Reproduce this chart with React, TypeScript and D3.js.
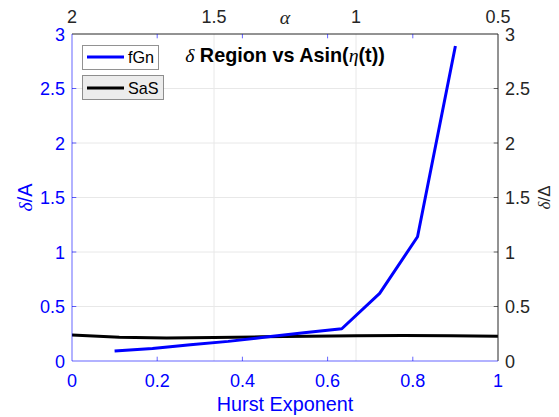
import React from "react";
import * as d3 from "d3";

const hurst = [0.1, 0.1889, 0.2778, 0.3667, 0.4556, 0.5444, 0.6333, 0.7222, 0.8111, 0.9];
const fGn = [0.092, 0.115, 0.15, 0.18, 0.22, 0.26, 0.296, 0.62, 1.14, 2.89];
const alphaVals = [2, 1.8333, 1.6667, 1.5, 1.3333, 1.1667, 1, 0.8333, 0.6667, 0.5];
const sas = [0.238, 0.218, 0.212, 0.215, 0.222, 0.228, 0.232, 0.233, 0.232, 0.228];
const xTicks = [0, 0.2, 0.4, 0.6, 0.8, 1];
const yTicks = [0, 0.5, 1, 1.5, 2, 2.5, 3];
const alphaTicks = [2, 1.5, 1, 0.5];

const W = 559, H = 417;
const L = 72, R = 498, T = 34, B = 361;
const BLUE = "#0000ff";
const GRAY = "#262626";
const FONT = "'Liberation Sans', Arial, Helvetica, sans-serif";

export default function App() {
  const x = d3.scaleLinear().domain([0, 1]).range([L, R]);
  const xa = d3.scaleLinear().domain([2, 0.5]).range([L, R]);
  const y = d3.scaleLinear().domain([0, 3]).range([B, T]);
  const yr = d3.scaleLinear().domain([0, 3]).range([B, T]);
  const lineF = d3.line<number>().x((_, i) => x(hurst[i])).y((d) => y(d));
  const lineS = d3.line<number>().x((_, i) => xa(alphaVals[i])).y((d) => yr(d));
  const fmt = (v: number) => String(v);
  const tl = 4.3;
  return (
    <svg width={W} height={H} style={{ position: "absolute", left: 0, top: 0, background: "#fff" }}>
      <rect x={0} y={0} width={W} height={H} fill="#fff" />
      {/* grid */}
      {yTicks.slice(1, -1).map((t) => (
        <line key={"gy" + t} x1={L} x2={R} y1={y(t)} y2={y(t)} stroke="#e8e8e8" strokeWidth={1} />
      ))}
      {alphaTicks.slice(1, -1).map((t) => (
        <line key={"ga" + t} x1={xa(t)} x2={xa(t)} y1={T} y2={B} stroke="#e8e8e8" strokeWidth={1} />
      ))}
      {/* lines */}
      <path d={lineS(sas) || ""} fill="none" stroke="#000" strokeWidth={3} strokeLinejoin="round" />
      <path d={lineF(fGn) || ""} fill="none" stroke={BLUE} strokeWidth={3} strokeLinejoin="round" />
      {/* axes lines */}
      <line x1={L} x2={R} y1={T} y2={T} stroke={GRAY} strokeWidth={1} />
      <line x1={R} x2={R} y1={T} y2={B} stroke={GRAY} strokeWidth={1} />
      <line x1={L} x2={L} y1={T} y2={B} stroke={BLUE} strokeWidth={1} opacity={0.6} />
      <line x1={L} x2={R} y1={B} y2={B} stroke={BLUE} strokeWidth={1} opacity={0.6} />
      {/* ticks */}
      {xTicks.slice(1, -1).map((t) => (
        <g key={"xt" + t}>
          <line x1={x(t)} x2={x(t)} y1={B} y2={B - tl} stroke={BLUE} opacity={0.6} />
          <line x1={x(t)} x2={x(t)} y1={T} y2={T + tl} stroke={BLUE} opacity={0.6} />
        </g>
      ))}
      {yTicks.slice(1, -1).map((t) => (
        <g key={"yt" + t}>
          <line x1={L} x2={L + tl} y1={y(t)} y2={y(t)} stroke={BLUE} opacity={0.6} />
          <line x1={R} x2={R - tl} y1={yr(t)} y2={yr(t)} stroke={GRAY} opacity={0.7} />
        </g>
      ))}
      {/* tick labels */}
      <g fontFamily={FONT} fontSize={18}>
        {xTicks.map((t) => (
          <text key={"xl" + t} x={x(t)} y={387} textAnchor="middle" fill={BLUE}>{fmt(t)}</text>
        ))}
        {yTicks.map((t) => (
          <text key={"yl" + t} x={65} y={y(t) + 6.5} textAnchor="end" fill={BLUE}>{fmt(t)}</text>
        ))}
        {yTicks.map((t) => (
          <text key={"yr" + t} x={505} y={yr(t) + 6.5} textAnchor="start" fill={GRAY}>{fmt(t)}</text>
        ))}
        {alphaTicks.map((t) => (
          <text key={"al" + t} x={xa(t)} y={23} textAnchor="middle" fill={GRAY}>{fmt(t)}</text>
        ))}
      </g>
      {/* axis labels */}
      <text x={(L + R) / 2} y={411} textAnchor="middle" fontFamily={FONT} fontSize={19.8} fill={BLUE}>Hurst Exponent</text>
      <text transform={`translate(${32},${(T + B) / 2}) rotate(-90)`} textAnchor="middle" fontFamily={FONT} fontSize={19.8} fill={BLUE}>
        <tspan fontFamily="'Liberation Serif', serif" fontStyle="italic">δ</tspan>/A
      </text>
      <text transform={`translate(${550},${(T + B) / 2}) rotate(-90)`} textAnchor="middle" fontFamily={FONT} fontSize={17} fill={GRAY}>
        <tspan fontFamily="'Liberation Serif', serif" fontStyle="italic">δ</tspan>/Δ
      </text>
      <text x={(L + R) / 2} y={24} textAnchor="middle" fontFamily="'Liberation Serif', 'DejaVu Serif', serif" fontStyle="italic" fontSize={19.8} fill={GRAY}>α</text>
      {/* title */}
      <text x={(L + R) / 2} y={62} textAnchor="middle" fontFamily={FONT} fontSize={19.8} fontWeight="bold" fill="#000">
        <tspan fontFamily="'Liberation Serif', serif" fontStyle="italic" fontWeight="normal">δ</tspan>
        {" Region vs Asin("}
        <tspan fontFamily="'Liberation Serif', serif" fontStyle="italic" fontWeight="normal">η</tspan>
        {"(t))"}
      </text>
      {/* legends */}
      <rect x={82.5} y={45.5} width={76} height={24} fill="#fff" stroke="#262626" strokeOpacity={0.5} strokeWidth={1} />
      <line x1={87} x2={124} y1={57} y2={57} stroke={BLUE} strokeWidth={3} />
      <text x={128} y={63} fontFamily={FONT} fontSize={16.2} fill="#000">fGn</text>
      <rect x={82.5} y={75.5} width={81} height={24} fill="#ececec" stroke="#262626" strokeOpacity={0.5} strokeWidth={1} />
      <line x1={87} x2={124} y1={88} y2={88} stroke="#000" strokeWidth={3} />
      <text x={128} y={94} fontFamily={FONT} fontSize={16.2} fill="#000">SaS</text>
    </svg>
  );
}
